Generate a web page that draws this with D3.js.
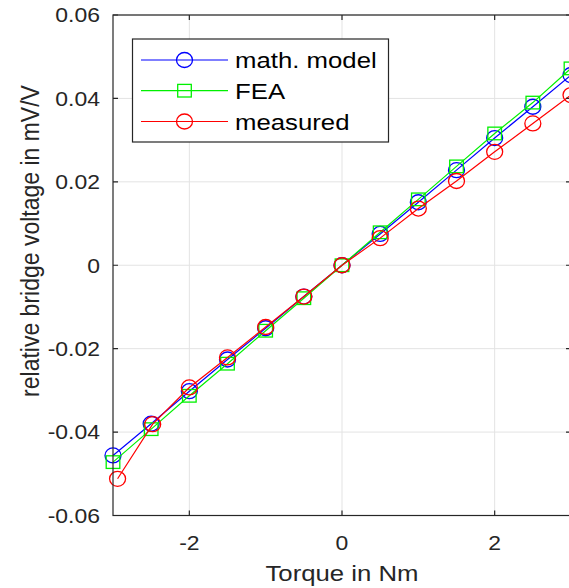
<!DOCTYPE html>
<html>
<head>
<meta charset="utf-8">
<script src="https://cdn.jsdelivr.net/npm/d3@7"></script>
<style>
  body { margin: 0; background: #fff; }
  svg { display: block; font-family: "Liberation Sans", Arial, sans-serif; }
</style>
</head>
<body>
<svg id="chart" width="569" height="588"></svg>
<script>
// torque steps (Nm)
const torque = [-3, -2.5, -2, -1.5, -1, -0.5, 0, 0.5, 1, 1.5, 2, 2.5, 3];
const torqueMeasured = [-2.94, -2.48, -2, -1.5, -1, -0.5, 0, 0.5, 1, 1.5, 2, 2.5, 3];

// relative bridge voltage (mV/V)
const mathModel = [-0.0456, -0.038, -0.0302, -0.0226, -0.0151, -0.0075, 0, 0.0075, 0.0151, 0.0228, 0.0305, 0.038, 0.0456];
const fea = [-0.0472, -0.0393, -0.0313, -0.0236, -0.0157, -0.0079, 0, 0.0079, 0.0158, 0.0237, 0.0316, 0.039, 0.0472];
const measured = [-0.0512, -0.0381, -0.0293, -0.0221, -0.0148, -0.0075, 0, 0.0065, 0.0136, 0.0202, 0.0272, 0.034, 0.0408];

const xTicks = [-2, 0, 2];
const yTicks = [-0.06, -0.04, -0.02, 0, 0.02, 0.04, 0.06];
const yTickLabels = ["-0.06", "-0.04", "-0.02", "0", "0.02", "0.04", "0.06"];
const seriesNames = ["math. model", "FEA", "measured"];

const mLeft = 113, mTop = 15, mRight = 571, mBottom = 515.5;
const axisColor = "#262626";
const sx = 1.12; // the picture is a bit wider than tall, text is stretched sideways

const x = d3.scaleLinear().domain([-3, 3]).range([mLeft, mRight]);
const y = d3.scaleLinear().domain([-0.06, 0.06]).range([mBottom, mTop]);

const svg = d3.select("#chart");

// grid
svg.append("g")
    .selectAll("line")
    .data(xTicks)
    .join("line")
    .attr("x1", d => x(d)).attr("x2", d => x(d))
    .attr("y1", mTop).attr("y2", mBottom)
    .attr("stroke", "#e3e3e3").attr("stroke-width", 1);
svg.append("g")
    .selectAll("line")
    .data(yTicks)
    .join("line")
    .attr("x1", mLeft).attr("x2", mRight)
    .attr("y1", d => y(d)).attr("y2", d => y(d))
    .attr("stroke", "#e3e3e3").attr("stroke-width", 1);

// data
const series = [
    { name: seriesNames[0], xs: torque, ys: mathModel, color: "#0000ff", marker: "circle" },
    { name: seriesNames[1], xs: torque, ys: fea, color: "#00f000", marker: "square" },
    { name: seriesNames[2], xs: torqueMeasured, ys: measured, color: "#ff0000", marker: "circle" }
];

const line = d3.line().x(d => x(d[0])).y(d => y(d[1]));

function drawMarker(g, marker, color) {
    if (marker === "circle") {
        g.append("ellipse").attr("rx", 8).attr("ry", 7.5)
            .attr("fill", "none").attr("stroke", color).attr("stroke-width", 1.3);
    } else {
        g.append("rect").attr("x", -6.8).attr("y", -6.3).attr("width", 13.6).attr("height", 12.6)
            .attr("fill", "none").attr("stroke", color).attr("stroke-width", 1.3);
    }
}

series.forEach(s => {
    const pts = s.xs.map((v, i) => [v, s.ys[i]]);
    const g = svg.append("g");
    g.append("path")
        .attr("d", line(pts))
        .attr("fill", "none").attr("stroke", s.color).attr("stroke-width", 1.2);
    g.selectAll("g")
        .data(pts)
        .join("g")
        .attr("transform", d => `translate(${x(d[0])},${y(d[1])})`)
        .each(function () { drawMarker(d3.select(this), s.marker, s.color); });
});

// axes box
const axes = svg.append("g").attr("stroke", axisColor).attr("stroke-width", 1.2);
axes.append("rect")
    .attr("x", mLeft).attr("y", mTop)
    .attr("width", mRight - mLeft).attr("height", mBottom - mTop)
    .attr("fill", "none");

// ticks (inside, both sides)
const tl = 5;
axes.selectAll(".xt")
    .data(xTicks)
    .join("path")
    .attr("d", d => `M${x(d)},${mBottom}v${-tl}M${x(d)},${mTop}v${tl}`);
axes.selectAll(".yt")
    .data(yTicks)
    .join("path")
    .attr("d", d => `M${mLeft},${y(d)}h${tl}M${mRight},${y(d)}h${-tl}`);

// tick labels
svg.append("g")
    .attr("font-size", 20.5).attr("fill", axisColor).attr("text-anchor", "middle")
    .selectAll("text")
    .data(xTicks)
    .join("text")
    .attr("transform", d => `translate(${x(d)},550) scale(${sx},1)`)
    .text(d => String(d));
svg.append("g")
    .attr("font-size", 20.5).attr("fill", axisColor).attr("text-anchor", "end")
    .selectAll("text")
    .data(yTicks)
    .join("text")
    .attr("transform", d => `translate(100,${y(d) + 7.3}) scale(${sx},1)`)
    .text((d, i) => yTickLabels[i]);

// axis labels
svg.append("text")
    .attr("transform", `translate(${x(0)},581) scale(${sx},1)`)
    .attr("text-anchor", "middle").attr("font-size", 23).attr("fill", axisColor)
    .text("Torque in Nm");
svg.append("text")
    .attr("transform", `translate(39,241) scale(${sx},1) rotate(-90)`)
    .attr("text-anchor", "middle").attr("font-size", 23).attr("fill", axisColor)
    .text("relative bridge voltage in mV/V");

// legend
const legend = svg.append("g");
legend.append("rect")
    .attr("x", 132.5).attr("y", 39)
    .attr("width", 256).attr("height", 103)
    .attr("fill", "#fff").attr("stroke", axisColor).attr("stroke-width", 1.2);
const rowY = [60, 90.7, 121.5];
series.forEach((s, i) => {
    const g = legend.append("g").attr("transform", `translate(0,${rowY[i]})`);
    g.append("line").attr("x1", 141).attr("x2", 228)
        .attr("stroke", s.color).attr("stroke-width", 1.2);
    const m = g.append("g").attr("transform", "translate(184.5,0)");
    drawMarker(m, s.marker, s.color);
    g.append("text")
        .attr("transform", `translate(235,8.2) scale(${sx},1)`)
        .attr("font-size", 23).attr("fill", "#000")
        .text(s.name);
});
</script>
</body>
</html>
